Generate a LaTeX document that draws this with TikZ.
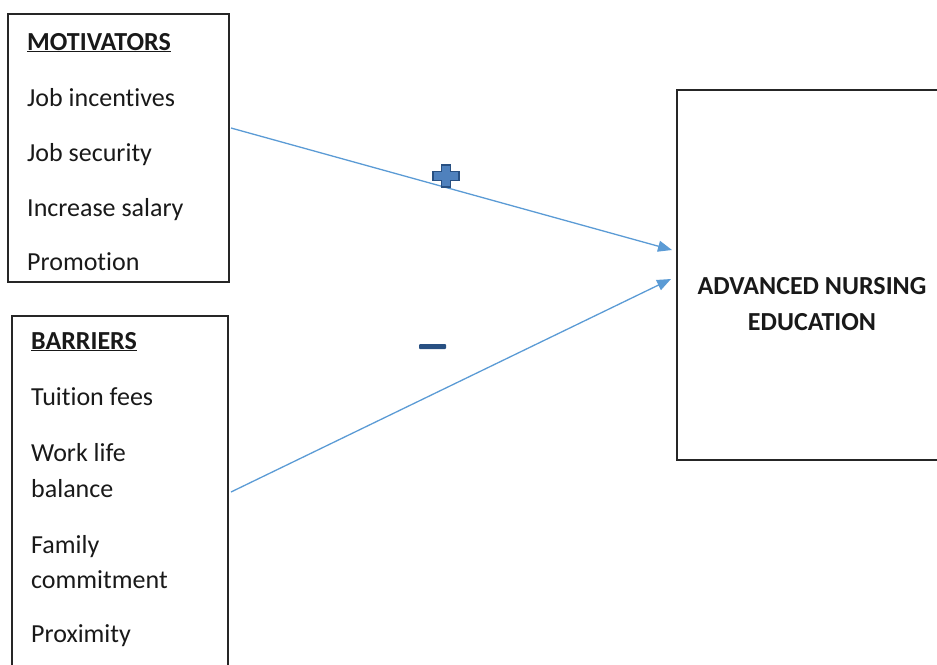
\documentclass[tikz,border=0pt]{standalone}
\usepackage{fontspec}
\setmainfont{Carlito}[Ligatures={NoCommon,NoDiscretionary,NoContextual}]
\usetikzlibrary{arrows.meta}
\definecolor{linkblue}{RGB}{91,155,213}
\definecolor{signfill}{RGB}{79,129,189}
\definecolor{signdark}{RGB}{40,80,130}
% keep "t" and "i" as separate glyphs
\newcommand\tisep{t\kern0pt i}
\begin{document}
\begin{tikzpicture}[x=1pt,y=-1pt,
  frame/.style={draw=black!85,line width=1.4pt},
  item/.style={anchor=base west,inner sep=0pt,font=\fontsize{26}{30}\selectfont,text=black!90},
  head/.style={item,font=\fontsize{26}{30}\selectfont\bfseries},
  link/.style={draw=linkblue,line width=1.3pt,-{Triangle[length=14pt,width=11pt]}}]
\useasboundingbox (0,0) rectangle (937,664);
\begin{scope}
\clip (0,0) rectangle (937,664);
% boxes
\draw[frame] (8,14) rectangle (229,282);
\draw[frame] (12,316) rectangle (228,700);
\draw[frame] (677,90) rectangle (960,460);
\end{scope}
% motivators
\node[head] (mot) at (27,50) {\underline{MOTIVATORS}};
\node[item] (m1) at (27,106) {Job incen\tisep ves};
\node[item] (m2) at (27,161) {Job security};
\node[item] (m3) at (27,216) {Increase salary};
\node[item] (m4) at (27,270) {Promo\tisep on};
% barriers
\node[head] (bar) at (31,349) {\underline{BARRIERS}};
\node[item] (b1) at (31,405) {Tui\tisep on fees};
\node[item] (b2) at (31,461) {Work life};
\node[item] (b3) at (31,497) {balance};
\node[item] (b4) at (31,553) {Family};
\node[item] (b5) at (31,588) {commitment};
\node[item] (b6) at (31,642) {Proximity};
% outcome
\node[head,anchor=base] (out1) at (812,294) {ADVANCED NURSING};
\node[head,anchor=base] (out2) at (812,330) {EDUCATION};
% connectors
\coordinate (s1) at (231,128);
\coordinate (e1) at (672,250);
\coordinate (s2) at (231,492);
\coordinate (e2) at (671,279);
\draw[link] (s1) -- (e1);
\draw[link] (s2) -- (e2);
% signs
\coordinate (plus) at (446,176);
\fill[signfill,draw=signdark,line width=1.2pt,shift={(plus)}]
  (-4.5,-11) -- (4.5,-11) -- (4.5,-4.5) -- (13,-4.5) -- (13,4.5) -- (4.5,4.5)
  -- (4.5,11) -- (-4.5,11) -- (-4.5,4.5) -- (-13,4.5) -- (-13,-4.5) -- (-4.5,-4.5) -- cycle;
\node[fill=signdark,rounded corners=1pt,minimum width=27pt,minimum height=5pt,inner sep=0pt] (minus) at (432.5,346.5) {};
\end{tikzpicture}
\end{document}
